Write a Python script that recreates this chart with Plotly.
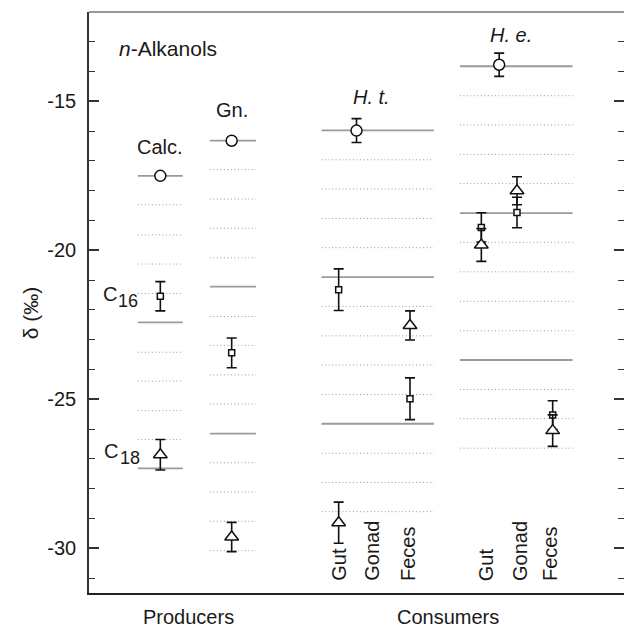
import plotly.graph_objects as go

# ---------------- data ----------------
# x positions of sample columns (group order)
col_x = {"Calc": 2, "Gn": 4, "HtGut": 7, "HtGonad": 8, "HtFeces": 9,
         "HeGut": 11, "HeGonad": 12, "HeFeces": 13, "Ht": 7.5, "He": 11.5}

# circles (bulk / reference values)
circ_cols = ["Calc", "Gn", "Ht", "He"]
circ_val = [-17.50, -16.32, -15.98, -13.77]
circ_err = [0.0, 0.0, 0.40, 0.39]

# squares: C16
sq_cols = ["Calc", "Gn", "HtGut", "HtFeces", "HeGut", "HeGonad", "HeFeces"]
sq_val = [-21.54, -23.44, -21.32, -24.98, -19.23, -18.73, -25.53]
sq_err = [0.49, 0.50, 0.70, 0.70, 0.49, 0.51, 0.48]

# triangles: C18
tri_cols = ["Calc", "Gn", "HtGut", "HtFeces", "HeGut", "HeGonad", "HeFeces"]
tri_val = [-26.86, -29.62, -29.14, -22.52, -19.82, -18.00, -26.05]
tri_err = [0.51, 0.49, 0.69, 0.49, 0.55, 0.47, 0.53]

# horizontal guide levels per group
guide_calc = [-17.50, -18.47, -19.48, -20.46, -21.45, -22.42, -23.42, -24.39, -25.38, -26.35, -27.32]
guide_gn = [-16.32, -17.29, -18.28, -19.26, -20.25, -21.22, -22.22, -23.19, -24.18, -25.16,
            -26.15, -27.13, -28.11, -29.09, -30.08]
guide_ht = [-15.97, -16.96, -17.94, -18.93, -19.91, -20.90, -21.88, -22.87, -23.85, -24.84,
            -25.82, -26.81, -27.79, -28.77]
guide_he = [-13.82, -14.81, -15.79, -16.78, -17.76, -18.75, -19.73, -20.72, -21.71, -22.70,
            -23.68, -24.67, -25.65, -26.64]
solid_idx = [0, 5, 10]

y_ticks = [-30, -25, -20, -15]
y_range = [-31.5, -12]
x_range = [0, 15]

# ---------------- layout constants ----------------
guide_span = {"calc": (1.37, 2.63), "gn": (3.39, 4.68), "ht": (6.52, 9.67), "he": (10.40, 13.56)}
FONT = "Liberation Sans, Arial, sans-serif"
GREY = "#9a9a9a"

fig = go.Figure()

def add_guides(levels, span):
    sx, sy, dx, dy = [], [], [], []
    for i, v in enumerate(levels):
        if i in solid_idx:
            sx += [span[0], span[1], None]; sy += [v, v, None]
        else:
            dx += [span[0], span[1], None]; dy += [v, v, None]
    fig.add_trace(go.Scatter(x=dx, y=dy, mode="lines", hoverinfo="skip",
                             line=dict(color=GREY, width=1, dash="1px,2.5px")))
    fig.add_trace(go.Scatter(x=sx, y=sy, mode="lines", hoverinfo="skip",
                             line=dict(color=GREY, width=1.8)))

add_guides(guide_calc, guide_span["calc"])
add_guides(guide_gn, guide_span["gn"])
add_guides(guide_ht, guide_span["ht"])
add_guides(guide_he, guide_span["he"])

def add_points(cols, vals, errs, symbol, size):
    fig.add_trace(go.Scatter(
        x=[col_x[c] for c in cols], y=vals, mode="markers",
        marker=dict(symbol=symbol, size=size, color="white",
                    line=dict(color="#111", width=1.5)),
        error_y=dict(type="data", array=errs, visible=True, color="#111",
                     thickness=1.6, width=5)))

add_points(circ_cols, circ_val, circ_err, "circle", 11)
add_points(sq_cols, sq_val, sq_err, "square", 6)
add_points(tri_cols, tri_val, tri_err, "triangle-up", 12)

# invisible trace to anchor right-hand axis
fig.add_trace(go.Scatter(x=[None], y=[None], yaxis="y2", showlegend=False))

annots = []
def txt(x, y, s, size=20, xref="x", yref="y", **kw):
    d = dict(x=x, y=y, text=s, showarrow=False, xref=xref, yref=yref,
             font=dict(family=FONT, size=size, color="#1a1a1a"))
    d.update(kw)
    annots.append(d)

txt(0.785, -13.21, "<i>n</i>-Alkanols", size=21, xanchor="left")
txt(2.0, -16.53, "Calc.")
txt(4.0, -15.29, "Gn.")
txt(7.93, -14.84, "<i>H. t.</i>")
txt(11.82, -12.77, "<i>H. e.</i>")
txt(0.60, -21.45, "C")
txt(1.09, -21.70, "16", size=18)
txt(0.62, -26.72, "C")
txt(1.15, -26.97, "18", size=18)
for xx, lab in [(7.01, "Gut"), (7.95, "Gonad"), (8.94, "Feces"),
                (11.12, "Gut"), (12.08, "Gonad"), (12.92, "Feces")]:
    txt(xx, -31.17, lab, textangle=-90, yanchor="bottom")
txt(2.78, -0.0413, "Producers", yref="paper", yanchor="middle")
txt(10.06, -0.0413, "Consumers", yref="paper", yanchor="middle")
txt(-0.108, 0.482, "δ (‰)", xref="paper", yref="paper", textangle=-90, size=21,
    xanchor="center", yanchor="middle")

fig.update_layout(
    width=624, height=627,
    margin=dict(l=89, r=0, t=12, b=34),
    plot_bgcolor="white", paper_bgcolor="white",
    showlegend=False,
    annotations=annots,
    shapes=[dict(type="line", xref="paper", yref="paper", x0=0, x1=1, y0=1, y1=1,
                 line=dict(color="#777", width=1.6))],
    xaxis=dict(range=x_range, showgrid=False, zeroline=False, showticklabels=False,
               ticks="", showline=True, linecolor="#222", linewidth=1.6),
    yaxis=dict(range=y_range, tickvals=y_ticks, ticktext=[str(v) for v in y_ticks],
               showgrid=False, zeroline=False, ticks="inside", ticklen=10,
               tickwidth=1.5, tickcolor="#333", showline=True, linecolor="#333",
               linewidth=1.6, tickfont=dict(family=FONT, size=20, color="#1a1a1a"),
               ticklabelstandoff=7,
               minor=dict(ticks="inside", dtick=1, tick0=-30, ticklen=6,
                          tickwidth=1.3, tickcolor="#333")),
    yaxis2=dict(range=y_range, overlaying="y", side="right", anchor="x",
                tickvals=y_ticks, showticklabels=False, showgrid=False,
                zeroline=False, showline=False, ticks="inside", ticklen=10,
                tickwidth=1.5, tickcolor="#333",
                minor=dict(ticks="inside", dtick=1, tick0=-30, ticklen=6,
                           tickwidth=1.3, tickcolor="#333")),
)

# remove the browser's default 8px page margin so the 624x627 figure fills the window
fig.write_html("out.html",
               config={"displayModeBar": False},
               post_script="document.body.style.margin='0';"
                           "document.documentElement.style.overflow='hidden';")
